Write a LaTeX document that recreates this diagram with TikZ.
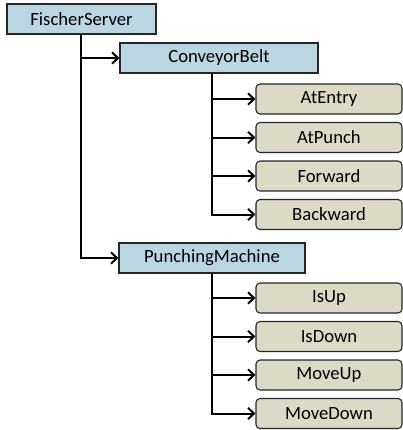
\documentclass[tikz,border=0pt]{standalone}
\usepackage{fontspec}
\setmainfont{Carlito}
\usetikzlibrary{arrows.meta}
\definecolor{classblue}{RGB}{186,214,224}
\definecolor{memberbeige}{RGB}{221,217,199}
\tikzset{
    classbox/.style={draw=black!85, fill=classblue, line width=0.8pt,
        minimum height=22.5pt, inner sep=0pt, font=\fontsize{14}{16}\selectfont},
    memberbox/.style={draw=black!85, fill=memberbeige, line width=0.8pt,
        rounded corners=3pt, minimum width=109.5pt, minimum height=22.5pt,
        inner sep=0pt, font=\fontsize{14}{16}\selectfont},
    link/.style={line width=1.5pt, -{Straight Barb[length=4.5pt,width=8.5pt]}}
}

\begin{document}
\begin{tikzpicture}[x=0.75pt, y=-0.75pt]
    \useasboundingbox (0,0) rectangle (403,430);
    % classes
    \node[classbox, minimum width=111.75pt] (fs) at (81.5, 19) {FischerServer};
    \node[classbox, minimum width=148.5pt] (cb) at (219, 58) {ConveyorBelt};
    \node[classbox, minimum width=139.5pt] (pm) at (212, 258) {PunchingMachine};
    % members of the conveyor belt
    \foreach \n/\t/\y in {ae/AtEntry/99, ap/AtPunch/137.5, fw/Forward/176, bw/Backward/214.5} {
        \node[memberbox] (\n) at (329, \y) {\t};
    }
    % members of the punching machine
    \foreach \n/\t/\y in {iu/IsUp/298, id/IsDown/336.5, mu/MoveUp/375, md/MoveDown/413.5} {
        \node[memberbox] (\n) at (329, \y) {\t};
    }
    % connectors
    \draw[link] (fs.south) |- (cb.west);
    \draw[link] (fs.south) |- (pm.west);
    \foreach \n in {ae, ap, fw, bw} {
        \draw[link] ([xshift=-5.25pt]cb.south) |- (\n.west);
    }
    \foreach \n in {iu, id, mu, md} {
        \draw[link] (pm.south) |- (\n.west);
    }
\end{tikzpicture}
\end{document}
